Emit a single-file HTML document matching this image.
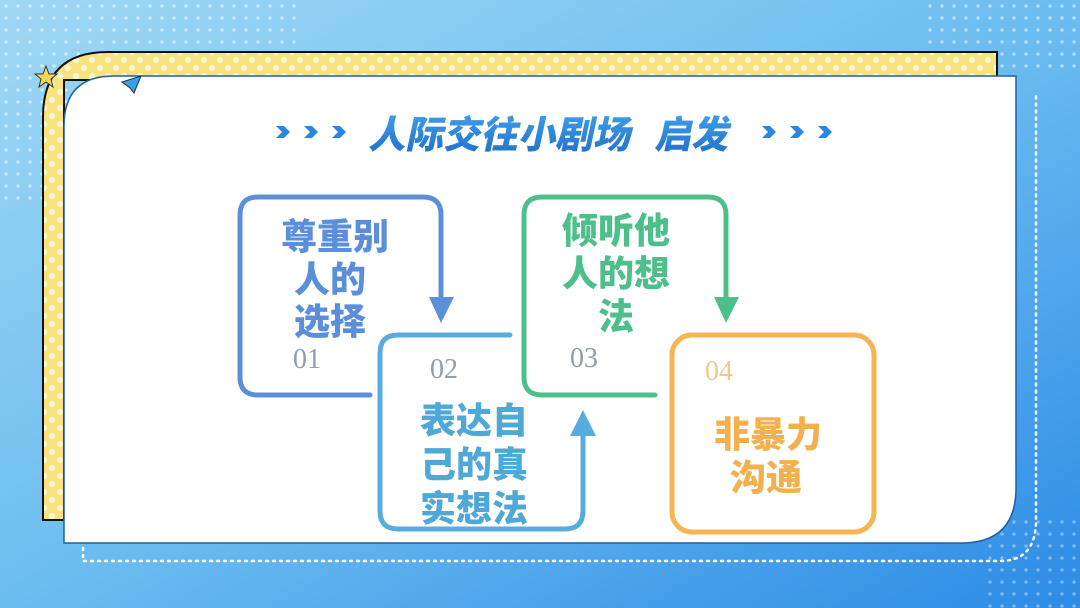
<!DOCTYPE html>
<html><head><meta charset="utf-8"><style>
html,body{margin:0;padding:0;width:1080px;height:608px;overflow:hidden}
svg{display:block}
.cj{font-family:"Liberation Sans","Noto Sans CJK SC",sans-serif;font-weight:900;font-size:36px;text-anchor:middle}
.num{font-family:"Liberation Serif",serif;font-size:28px;fill:#8e9eab}
</style></head><body>
<svg width="1080" height="608" viewBox="0 0 1080 608" xmlns="http://www.w3.org/2000/svg">
<defs>
<linearGradient id="bg" x1="0" y1="0" x2="1" y2="1">
<stop offset="0" stop-color="#9fd8f4"/><stop offset="0.5" stop-color="#6cbdf0"/><stop offset="1" stop-color="#2d8be6"/>
</linearGradient>
<pattern id="dots" width="12" height="12" patternUnits="userSpaceOnUse"><circle cx="6" cy="6" r="1.6" fill="#ffffff" opacity="0.8"/></pattern>
<pattern id="ydots" width="16" height="16" patternUnits="userSpaceOnUse"><rect width="16" height="16" fill="#f7e27e"/><circle cx="4" cy="4" r="3.3" fill="#fff6c8"/><circle cx="12" cy="12" r="3.3" fill="#fff6c8"/></pattern>
<linearGradient id="tg" x1="0" y1="0" x2="0" y2="1"><stop offset="0" stop-color="#3f9ee8"/><stop offset="1" stop-color="#1f6fc9"/></linearGradient>
</defs>
<rect width="1080" height="608" fill="url(#bg)"/>
<rect x="0" y="0" width="300" height="200" fill="url(#dots)" opacity="0.7"/>
<rect x="920" y="0" width="160" height="70" fill="url(#dots)" opacity="0.7"/>
<rect x="980" y="520" width="100" height="88" fill="url(#dots)" opacity="0.5"/>
<path d="M83 548 V561 H1000 Q1036 561 1036 520 V95" fill="none" stroke="#fff" stroke-width="2.5" stroke-dasharray="2 5" stroke-linecap="round"/>
<path d="M43 520 V117 Q43 52 108 52 H997 V80 H64 V520 Z" fill="url(#ydots)" stroke="#111" stroke-width="2"/>
<path d="M64 543 V126 Q64 76 114 76 H1016 V488 Q1016 543 961 543 Z" fill="#ffffff" stroke="#1e5fa8" stroke-width="1.5"/>
<polygon points="46,66 49,74 57,74 51,79 53,87 46,82 39,87 41,79 35,74 43,74" fill="#f4d65a" stroke="#333" stroke-width="1"/>
<polygon points="122,82 141,76 134,93 130,88" fill="#3d9fe6" stroke="#234" stroke-width="1"/>
<g fill="#2a86e0">
<path d="M276 126 l8 0 l6 6 l-6 6 l-8 0 l6 -6z"/><path d="M304 126 l8 0 l6 6 l-6 6 l-8 0 l6 -6z"/><path d="M332 126 l8 0 l6 6 l-6 6 l-8 0 l6 -6z"/>
<path d="M762 126 l8 0 l6 6 l-6 6 l-8 0 l6 -6z"/><path d="M790 126 l8 0 l6 6 l-6 6 l-8 0 l6 -6z"/><path d="M818 126 l8 0 l6 6 l-6 6 l-8 0 l6 -6z"/>
</g>
<g fill="url(#tg)" font-family="Liberation Sans,Noto Sans CJK SC,sans-serif" font-weight="900" font-size="38">
<text transform="translate(368 148) skewX(-12)" textLength="262" lengthAdjust="spacingAndGlyphs">人际交往小剧场</text>
<text transform="translate(654 148) skewX(-12)" textLength="74" lengthAdjust="spacingAndGlyphs">启发</text>
</g>
<g fill="none" stroke-width="5" stroke-linecap="round">
<path d="M370 395 H258 Q240 395 240 377 V215 Q240 197 258 197 H423 Q441 197 441 215 V300" stroke="#5b8fdc"/>
<path d="M655 395 H542 Q524 395 524 377 V215 Q524 197 542 197 H708 Q726 197 726 215 V300" stroke="#4dbf8a"/>
<path d="M510 335 H398 Q380 335 380 353 V511 Q380 529 398 529 H565 Q583 529 583 511 V430" stroke="#58acdd"/>
<rect x="672" y="335" width="202" height="197" rx="20" stroke="#f4b552"/>
</g>
<polygon points="429,297 454,297 441,323" fill="#5b8fdc"/>
<polygon points="714,297 739,297 726,323" fill="#4dbf8a"/>
<polygon points="570,436 596,436 583,410" fill="#58acdd"/>
<g class="cj" fill="#5b8fdc"><text x="335" y="249">尊重别</text><text x="330" y="292">人的</text><text x="330" y="334">选择</text></g>
<text x="293" y="368" class="num">01</text>
<text x="430" y="378" class="num">02</text>
<g class="cj" fill="#4fa9d8"><text x="474" y="433">表达自</text><text x="474" y="477">己的真</text><text x="474" y="521">实想法</text></g>
<g class="cj" fill="#4dbf8a"><text x="616" y="243">倾听他</text><text x="616" y="286">人的想</text><text x="616" y="329">法</text></g>
<text x="570" y="367" class="num">03</text>
<text x="705" y="380" class="num" style="fill:#efc88e">04</text>
<g class="cj" fill="#f3b04f"><text x="768" y="447">非暴力</text><text x="766" y="490">沟通</text></g>
</svg>
</body></html>
